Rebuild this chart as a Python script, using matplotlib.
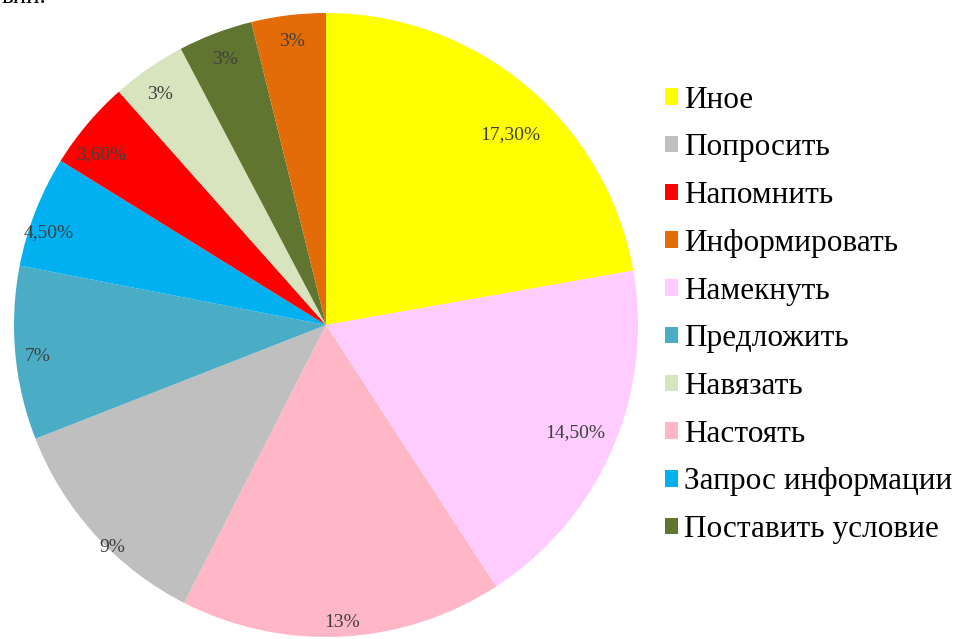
import numpy as np
import matplotlib
matplotlib.use("Agg")
import matplotlib.pyplot as plt
from matplotlib.patches import Patch

serif = ['Liberation Serif', 'DejaVu Serif']
plt.rcParams['font.family'] = serif

# slices, clockwise from 12 o'clock
slice_names = ["Иное", "Намекнуть", "Настоять", "Попросить", "Предложить",
               "Запрос информации", "Напомнить", "Навязать",
               "Поставить условие", "Информировать"]
slice_values = [17.3, 14.5, 13, 9, 7, 4.5, 3.6, 3, 3, 3]
slice_labels = ["17,30%", "14,50%", "13%", "9%", "7%", "4,50%", "3,60%",
                "3%", "3%", "3%"]
slice_colors = ["#FFFF00", "#FFCCFF", "#FFB7C8", "#BFBFBF", "#4BACC6",
                "#00B0F0", "#FF0000", "#D7E4BD", "#5F7530", "#E36C09"]

legend_order = ["Иное", "Попросить", "Напомнить", "Информировать",
                "Намекнуть", "Предложить", "Навязать", "Настоять",
                "Запрос информации", "Поставить условие"]

# label placement: fraction of radius and angle nudge (deg) from wedge middle
label_r = [0.85, 0.87, 0.955, 0.99, 0.93, 0.935, 0.905, 0.91, 0.91, 0.915]
label_dang = [-4, 0, 0, 4, 1, 3, 3, 1, 0, 0]

W, H = 966, 639
fig = plt.figure(figsize=(W / 100, H / 100), dpi=100)
cx, cy, r = 326, 325, 312
ax = fig.add_axes([(cx - r) / W, (H - cy - r) / H, 2 * r / W, 2 * r / H])

wedges, _ = ax.pie(slice_values, colors=slice_colors, startangle=90,
                   counterclock=False, radius=1.0,
                   wedgeprops=dict(linewidth=0))
ax.set_xlim(-1, 1)
ax.set_ylim(-1, 1)
ax.set_aspect('equal')
ax.axis('off')

for w, lab, rr, da in zip(wedges, slice_labels, label_r, label_dang):
    ang = np.deg2rad((w.theta1 + w.theta2) / 2 + da)
    ax.text(rr * np.cos(ang), rr * np.sin(ang), lab, ha='center', va='center',
            fontsize=14, color='#404040', family=serif)

col = dict(zip(slice_names, slice_colors))
handles = [Patch(facecolor=col[n], edgecolor='none') for n in legend_order]
fig.legend(handles, legend_order, loc='upper left',
           bbox_to_anchor=(652 / W, 1 - 73 / H), frameon=False,
           prop=dict(family=serif, size=22.5),
           handlelength=0.44, handleheight=0.44,
           handletextpad=0.2, labelspacing=0.6, borderaxespad=0)

# cropped text at top edge
fig.text(2 / W, 1 - 3 / H, "вии.", fontsize=18, va='baseline', ha='left',
         family=serif)

fig.savefig("out.png", dpi=100)
